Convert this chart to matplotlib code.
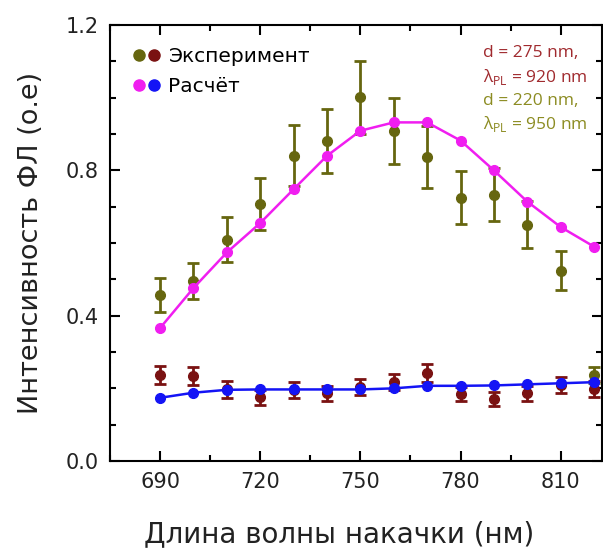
import matplotlib
matplotlib.use("Agg")
import matplotlib.pyplot as plt
from matplotlib.legend_handler import HandlerTuple
from matplotlib.lines import Line2D
from matplotlib.ticker import MultipleLocator

wavelength = [690, 700, 710, 720, 730, 740, 750, 760, 770, 780, 790, 800, 810, 820]

calc_high = [0.366, 0.476, 0.574, 0.655, 0.748, 0.840, 0.909, 0.932, 0.932, 0.882, 0.800, 0.714, 0.644, 0.590]
calc_low = [0.174, 0.188, 0.196, 0.197, 0.197, 0.197, 0.197, 0.200, 0.207, 0.207, 0.208, 0.211, 0.214, 0.217]

exp_olive = [0.456, 0.496, 0.609, 0.707, 0.840, 0.882, 1.001, 0.909, 0.836, 0.725, 0.733, 0.650, 0.524, 0.237]
exp_olive_err = [0.047, 0.050, 0.062, 0.071, 0.084, 0.088, 0.100, 0.091, 0.085, 0.073, 0.073, 0.065, 0.054, 0.023]

exp_red = [0.237, 0.235, 0.197, 0.175, 0.196, 0.186, 0.205, 0.218, 0.242, 0.185, 0.171, 0.186, 0.209, 0.198]
exp_red_err = [0.025, 0.025, 0.024, 0.020, 0.022, 0.020, 0.022, 0.022, 0.025, 0.020, 0.020, 0.020, 0.022, 0.022]

c_olive = "#66660f"
c_red = "#7a1212"
c_mag = "#f01ef0"
c_blue = "#1414f5"

fig = plt.figure(figsize=(6.03, 5.51), dpi=100)
ax = fig.add_axes([0.1824, 0.1633, 0.8166, 0.7913])

ax.errorbar(wavelength, exp_red, yerr=exp_red_err, fmt="o", color=c_red, ms=7,
            elinewidth=2, capsize=4, capthick=2, zorder=3)
ax.errorbar(wavelength, exp_olive, yerr=exp_olive_err, fmt="o", color=c_olive, ms=7,
            elinewidth=2, capsize=4, capthick=2, zorder=3)
ax.plot(wavelength, calc_high, "-o", color=c_mag, ms=7, lw=1.8, zorder=4, clip_on=False)
ax.plot(wavelength, calc_low, "-o", color=c_blue, ms=7, lw=1.8, zorder=4, clip_on=False)

ax.set_xlim(675, 822.5)
ax.set_ylim(0, 1.2)
ax.set_xticks([690, 720, 750, 780, 810])
ax.xaxis.set_minor_locator(MultipleLocator(15))
ax.set_yticks([0.0, 0.4, 0.8, 1.2])
ax.yaxis.set_minor_locator(MultipleLocator(0.1))
ax.tick_params(which="both", direction="in", top=True, right=True, width=1.5)
ax.tick_params(which="major", length=7, labelsize=15, pad=8, labelcolor="#222222")
ax.tick_params(which="minor", length=4)
for s in ax.spines.values():
    s.set_linewidth(1.5)

ax.set_xlabel("Длина волны накачки (нм)", fontsize=20, labelpad=20, color="#222222")
ax.xaxis.label.set_x(0.465)
ax.set_ylabel("Интенсивность ФЛ (о.е)", fontsize=19.5, labelpad=16, color="#222222")

h_exp = (Line2D([], [], ls="", marker="o", color=c_olive, ms=8),
         Line2D([], [], ls="", marker="o", color=c_red, ms=8))
h_calc = (Line2D([], [], ls="", marker="o", color=c_mag, ms=8),
          Line2D([], [], ls="", marker="o", color=c_blue, ms=8))
ax.legend([h_exp, h_calc], ["Эксперимент", "Расчёт"],
          handler_map={tuple: HandlerTuple(ndivide=None, pad=0.1)},
          loc="upper left", frameon=False, fontsize=14.5, handlelength=1.4,
          handletextpad=0.4, borderaxespad=0.6, labelspacing=0.55,
          borderpad=0.5)

fs = 12.5
fam = "Open Sans"
rc = "#a02a2e"
oc = "#8c8c22"
xt = 0.758
ax.text(xt, 0.936, "d = 275 nm,", transform=ax.transAxes, color=rc, fontsize=fs, family=fam, va="center")
ax.text(xt, 0.881, r"λ$_{\mathregular{PL}}$ = 920 nm", transform=ax.transAxes, color=rc, fontsize=fs, family=fam, va="center")
ax.text(xt, 0.826, "d = 220 nm,", transform=ax.transAxes, color=oc, fontsize=fs, family=fam, va="center")
ax.text(xt, 0.773, r"λ$_{\mathregular{PL}}$ = 950 nm", transform=ax.transAxes, color=oc, fontsize=fs, family=fam, va="center")

fig.savefig("out.png", dpi=100)
